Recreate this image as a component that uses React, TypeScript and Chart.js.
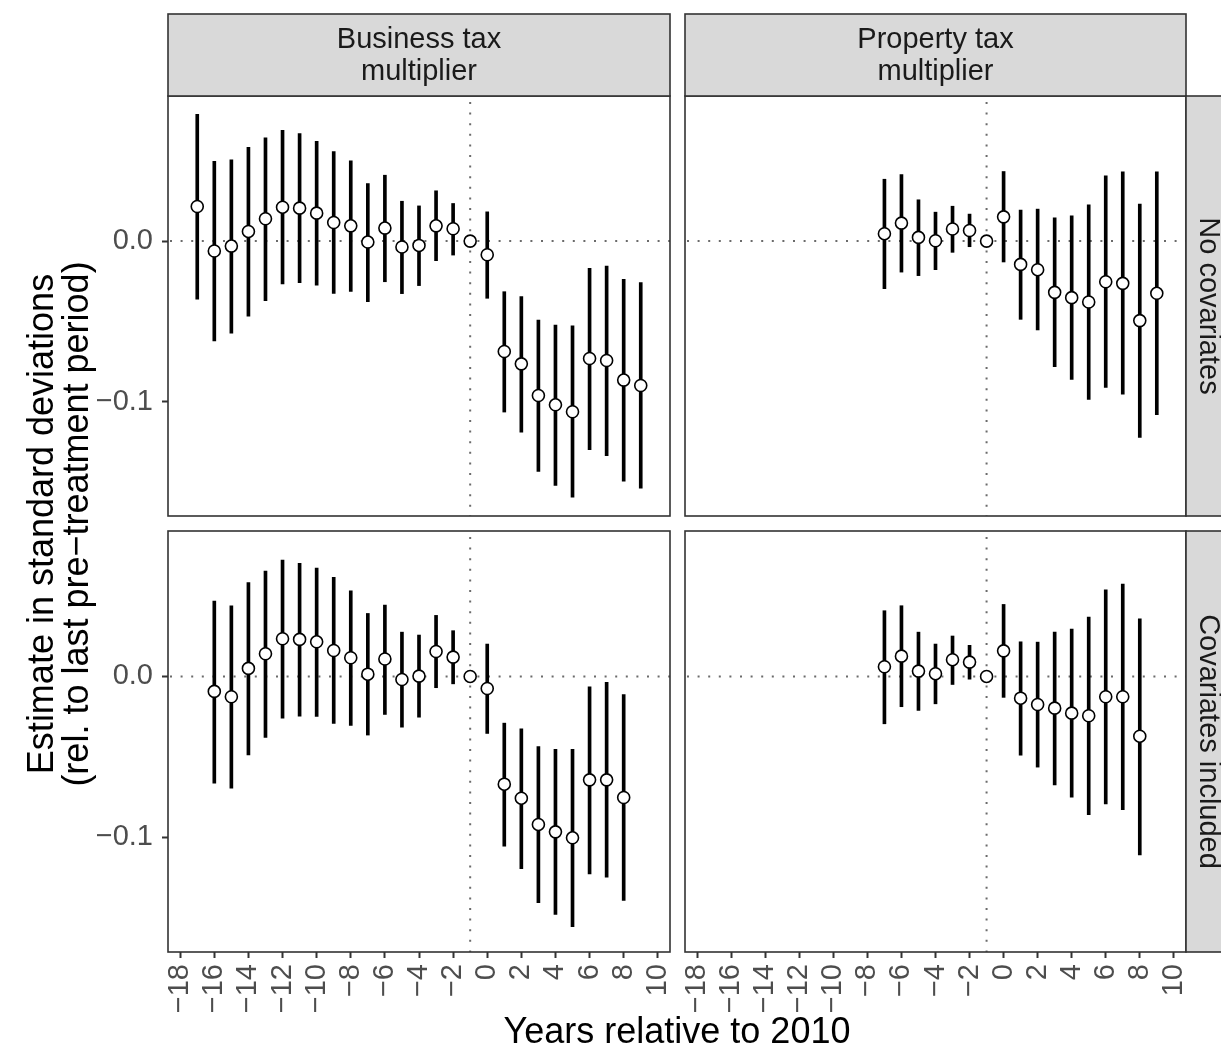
import React, { useEffect, useRef } from "react";
import { Chart, registerables } from "chart.js";

Chart.register(...registerables);

// ---------- data ----------
const X_TICKS = [-18, -16, -14, -12, -10, -8, -6, -4, -2, 0, 2, 4, 6, 8, 10];
const Y_TICKS = [-0.1, 0.0];
const REF_YEAR = -1;

const COL_LABELS = [["Business tax", "multiplier"], ["Property tax", "multiplier"]];
const ROW_LABELS = ["No covariates", "Covariates included"];
const X_TITLE = "Years relative to 2010";
const Y_TITLE = ["Estimate in standard deviations", "(rel. to last pre\u2212treatment period)"];

// Business tax multiplier, no covariates
const BUS_NOCOV_YEARS = [-17, -16, -15, -14, -13, -12, -11, -10, -9, -8, -7, -6, -5, -4, -3, -2, -1, 0, 1, 2, 3, 4, 5, 6, 7, 8, 9];
const BUS_NOCOV_EST = [0.0215, -0.0062, -0.0031, 0.006, 0.0139, 0.0211, 0.0205, 0.0174, 0.0116, 0.0095, -0.0006, 0.0081, -0.0037, -0.0027, 0.0095, 0.0077, 0, -0.0085, -0.0687, -0.0764, -0.0961, -0.1019, -0.1062, -0.0731, -0.0743, -0.0865, -0.0899];
const BUS_NOCOV_LO = [-0.0362, -0.0621, -0.0573, -0.0468, -0.0371, -0.0267, -0.0259, -0.0275, -0.0325, -0.0313, -0.0377, -0.0253, -0.0327, -0.0277, -0.0122, -0.0087, 0, -0.0356, -0.1064, -0.119, -0.1433, -0.152, -0.1594, -0.1298, -0.1335, -0.1495, -0.1538];
const BUS_NOCOV_HI = [0.0789, 0.0497, 0.0505, 0.0584, 0.0642, 0.0689, 0.0669, 0.0621, 0.0557, 0.0499, 0.0358, 0.041, 0.0248, 0.0219, 0.0313, 0.0234, 0, 0.0182, -0.0315, -0.0346, -0.0491, -0.0522, -0.0528, -0.017, -0.0155, -0.0238, -0.0259];

// Property tax multiplier, no covariates
const PROP_NOCOV_YEARS = [-7, -6, -5, -4, -3, -2, -1, 0, 1, 2, 3, 4, 5, 6, 7, 8, 9];
const PROP_NOCOV_EST = [0.0046, 0.0112, 0.0023, 0.0002, 0.0075, 0.0066, 0, 0.0151, -0.0145, -0.0178, -0.0319, -0.0352, -0.0379, -0.0253, -0.0263, -0.0495, -0.0325];
const PROP_NOCOV_LO = [-0.0296, -0.0193, -0.0215, -0.0178, -0.007, -0.0035, 0, -0.013, -0.0487, -0.0553, -0.0781, -0.0861, -0.0986, -0.0911, -0.0952, -0.1222, -0.1081];
const PROP_NOCOV_HI = [0.0385, 0.0414, 0.0257, 0.018, 0.0217, 0.0168, 0, 0.0433, 0.0193, 0.0199, 0.0145, 0.0157, 0.0226, 0.0406, 0.0431, 0.023, 0.0431];

// Business tax multiplier, covariates included
const BUS_COV_YEARS = [-16, -15, -14, -13, -12, -11, -10, -9, -8, -7, -6, -5, -4, -3, -2, -1, 0, 1, 2, 3, 4, 5, 6, 7, 8];
const BUS_COV_EST = [-0.0093, -0.0126, 0.005, 0.0141, 0.0234, 0.023, 0.0215, 0.0161, 0.0116, 0.0014, 0.0108, -0.0019, 0.0002, 0.0155, 0.012, 0, -0.0075, -0.0669, -0.0756, -0.0919, -0.0965, -0.1002, -0.0642, -0.0642, -0.0752];
const BUS_COV_LO = [-0.0663, -0.0694, -0.0487, -0.0379, -0.0259, -0.0246, -0.0248, -0.0292, -0.0304, -0.0364, -0.0236, -0.0315, -0.0253, -0.007, -0.0046, 0, -0.0354, -0.1054, -0.1193, -0.1404, -0.1478, -0.1553, -0.1226, -0.1246, -0.1391];
const BUS_COV_HI = [0.0468, 0.0439, 0.0582, 0.0654, 0.0723, 0.0702, 0.0673, 0.0615, 0.0532, 0.0391, 0.0443, 0.0275, 0.0257, 0.0379, 0.0284, 0, 0.0201, -0.029, -0.0325, -0.0435, -0.0453, -0.0453, -0.0064, -0.0037, -0.0112];

// Property tax multiplier, covariates included
const PROP_COV_YEARS = [-7, -6, -5, -4, -3, -2, -1, 0, 1, 2, 3, 4, 5, 6, 7, 8];
const PROP_COV_EST = [0.006, 0.0126, 0.0033, 0.0017, 0.0104, 0.0089, 0, 0.0159, -0.0135, -0.0174, -0.0197, -0.0228, -0.0244, -0.0126, -0.0126, -0.0371];
const PROP_COV_LO = [-0.0294, -0.0188, -0.0211, -0.017, -0.005, -0.0017, 0, -0.013, -0.0489, -0.0563, -0.0673, -0.0749, -0.0859, -0.0791, -0.0828, -0.1108];
const PROP_COV_HI = [0.0408, 0.0439, 0.0275, 0.0201, 0.0251, 0.0193, 0, 0.0447, 0.0215, 0.0213, 0.0275, 0.0294, 0.0369, 0.0538, 0.0573, 0.0358];

// ---------- layout ----------
const W = 1221;
const H = 1050;
const X_MIN = -18.715;
const X_MAX = 10.715;
const Y_MIN = -0.1711;
const Y_MAX = 0.0903;
const COLS = [[168, 670], [685, 1186]];
const ROWS = [[96, 516], [531, 952]];
const STRIP_TOP = 14;
const STRIP_RIGHT_W = 44;
const Y_AXIS_W = 80;
const X_AXIS_H = 70;
const FONT = "'Liberation Sans', Arial, Helvetica, sans-serif";
const TICK_SIZE = 29;
const STRIP_SIZE = 29;
const TITLE_SIZE = 36;
const BORDER = "#333333";

const fmt = (v: number, digits: number) => {
  const s = Math.abs(v).toFixed(digits);
  return v < -1e-9 ? "\u2212" + s : s;
};

type PanelDef = {
  row: number;
  col: number;
  years: number[];
  est: number[];
  lo: number[];
  hi: number[];
};

const PANELS: PanelDef[] = [
  { row: 0, col: 0, years: BUS_NOCOV_YEARS, est: BUS_NOCOV_EST, lo: BUS_NOCOV_LO, hi: BUS_NOCOV_HI },
  { row: 0, col: 1, years: PROP_NOCOV_YEARS, est: PROP_NOCOV_EST, lo: PROP_NOCOV_LO, hi: PROP_NOCOV_HI },
  { row: 1, col: 0, years: BUS_COV_YEARS, est: BUS_COV_EST, lo: BUS_COV_LO, hi: BUS_COV_HI },
  { row: 1, col: 1, years: PROP_COV_YEARS, est: PROP_COV_EST, lo: PROP_COV_LO, hi: PROP_COV_HI },
];

const decorPlugin = {
  id: "decor",
  beforeDatasetsDraw(chart: any) {
    const { ctx, chartArea } = chart;
    const xs = chart.scales.x;
    const ys = chart.scales.y;
    ctx.save();
    ctx.beginPath();
    ctx.rect(chartArea.left, chartArea.top, chartArea.right - chartArea.left, chartArea.bottom - chartArea.top);
    ctx.clip();
    ctx.strokeStyle = "#6b6b6b";
    ctx.lineWidth = 2;
    ctx.setLineDash([2, 8.6]);
    const y0 = ys.getPixelForValue(0);
    ctx.beginPath();
    ctx.moveTo(chartArea.left + 2, y0);
    ctx.lineTo(chartArea.right, y0);
    ctx.stroke();
    const xr = xs.getPixelForValue(REF_YEAR);
    ctx.beginPath();
    ctx.moveTo(xr, chartArea.top + 6);
    ctx.lineTo(xr, chartArea.bottom);
    ctx.stroke();
    ctx.restore();
  },
  afterDraw(chart: any, _args: any, opts: any) {
    const { ctx, chartArea } = chart;
    const { left, right, top, bottom } = chartArea;
    ctx.save();
    ctx.strokeStyle = BORDER;
    ctx.lineWidth = 1.6;
    ctx.strokeRect(left, top, right - left, bottom - top);
    if (opts.colLabel) {
      ctx.fillStyle = "#D9D9D9";
      ctx.fillRect(left, STRIP_TOP, right - left, top - STRIP_TOP);
      ctx.strokeRect(left, STRIP_TOP, right - left, top - STRIP_TOP);
      ctx.fillStyle = "#1A1A1A";
      ctx.font = `${STRIP_SIZE}px ${FONT}`;
      ctx.textAlign = "center";
      ctx.textBaseline = "middle";
      const cx = (left + right) / 2;
      ctx.fillText(opts.colLabel[0], cx, 40);
      ctx.fillText(opts.colLabel[1], cx, 72);
    }
    if (opts.rowLabel) {
      ctx.fillStyle = "#D9D9D9";
      ctx.fillRect(right, top, STRIP_RIGHT_W, bottom - top);
      ctx.strokeRect(right, top, STRIP_RIGHT_W, bottom - top);
      ctx.fillStyle = "#1A1A1A";
      ctx.font = `${STRIP_SIZE}px ${FONT}`;
      ctx.textAlign = "center";
      ctx.textBaseline = "middle";
      ctx.translate(right + 22, (top + bottom) / 2);
      ctx.rotate(Math.PI / 2);
      ctx.fillText(opts.rowLabel, 0, 0);
      ctx.setTransform(1, 0, 0, 1, 0, 0);
    }
    if (opts.titles) {
      ctx.fillStyle = "#000000";
      ctx.font = `${TITLE_SIZE}px ${FONT}`;
      ctx.textAlign = "center";
      ctx.textBaseline = "alphabetic";
      ctx.fillText(X_TITLE, (COLS[0][0] + COLS[1][1]) / 2, 1043);
      ctx.save();
      ctx.translate(0, (ROWS[0][0] + ROWS[1][1]) / 2);
      ctx.rotate(-Math.PI / 2);
      ctx.fillText(Y_TITLE[0], 0, 53);
      ctx.fillText(Y_TITLE[1], 0, 88);
      ctx.restore();
    }
    ctx.restore();
  },
};

function Panel({ def }: { def: PanelDef }) {
  const ref = useRef<HTMLCanvasElement | null>(null);
  useEffect(() => {
    const canvas = ref.current;
    if (!canvas) return;
    const [L, R] = COLS[def.col];
    const [T, B] = ROWS[def.row];
    const showY = def.col === 0;
    const showX = def.row === 1;
    const chart = new Chart(canvas, {
      type: "bar",
      data: {
        datasets: [
          {
            type: "scatter",
            data: def.years.map((x, i) => ({ x, y: def.est[i] })),
            pointRadius: 6,
            pointHoverRadius: 6,
            pointBackgroundColor: "#ffffff",
            pointBorderColor: "#000000",
            pointBorderWidth: 1.6,
            showLine: false,
            order: 0,
          } as any,
          {
            type: "bar",
            data: def.years.map((x, i) => ({ x, y: [def.lo[i], def.hi[i]] })),
            backgroundColor: "#000000",
            borderWidth: 0,
            barThickness: 3,
            order: 1,
          } as any,
        ],
      },
      options: {
        animation: false,
        responsive: false,
        maintainAspectRatio: false,
        events: [],
        layout: {
          padding: {
            left: showY ? L - Y_AXIS_W : L,
            right: W - R,
            top: T,
            bottom: showX ? H - B - X_AXIS_H : H - B,
          },
        },
        plugins: {
          legend: { display: false },
          tooltip: { enabled: false },
          decor: {
            colLabel: def.row === 0 ? COL_LABELS[def.col] : null,
            rowLabel: def.col === 1 ? ROW_LABELS[def.row] : null,
            titles: def.row === 1 && def.col === 0,
          },
        } as any,
        scales: {
          x: {
            type: "linear",
            display: showX,
            min: X_MIN,
            max: X_MAX,
            offset: false,
            afterBuildTicks: (s: any) => {
              s.ticks = X_TICKS.map((v) => ({ value: v }));
            },
            afterFit: (s: any) => {
              s.height = showX ? X_AXIS_H : 0;
            },
            grid: {
              display: true,
              drawOnChartArea: false,
              drawTicks: true,
              tickLength: 6,
              tickColor: BORDER,
              tickWidth: 2,
              offset: false,
            },
            border: { display: false },
            ticks: {
              autoSkip: false,
              minRotation: 90,
              maxRotation: 90,
              padding: 6,
              color: "#4D4D4D",
              font: { family: FONT, size: TICK_SIZE },
              callback: (v: any) => fmt(Number(v), 0),
            },
          },
          y: {
            type: "linear",
            display: showY,
            min: Y_MIN,
            max: Y_MAX,
            afterBuildTicks: (s: any) => {
              s.ticks = Y_TICKS.map((v) => ({ value: v }));
            },
            afterFit: (s: any) => {
              s.width = showY ? Y_AXIS_W : 0;
            },
            grid: {
              display: true,
              drawOnChartArea: false,
              drawTicks: true,
              tickLength: 6,
              tickColor: BORDER,
              tickWidth: 2,
            },
            border: { display: false },
            ticks: {
              padding: 9,
              color: "#4D4D4D",
              font: { family: FONT, size: TICK_SIZE },
              callback: (v: any) => fmt(Number(v), 1),
            },
          },
        },
      },
      plugins: [decorPlugin],
    } as any);
    return () => chart.destroy();
  }, [def]);
  return (
    <canvas
      ref={ref}
      width={W}
      height={H}
      style={{ position: "absolute", left: 0, top: 0, width: W, height: H }}
    />
  );
}

export default function App() {
  return (
    <div
      style={{
        position: "fixed",
        left: 0,
        top: 0,
        width: W,
        height: H,
        background: "#ffffff",
        overflow: "hidden",
      }}
    >
      {PANELS.map((p, i) => (
        <Panel key={i} def={p} />
      ))}
    </div>
  );
}
